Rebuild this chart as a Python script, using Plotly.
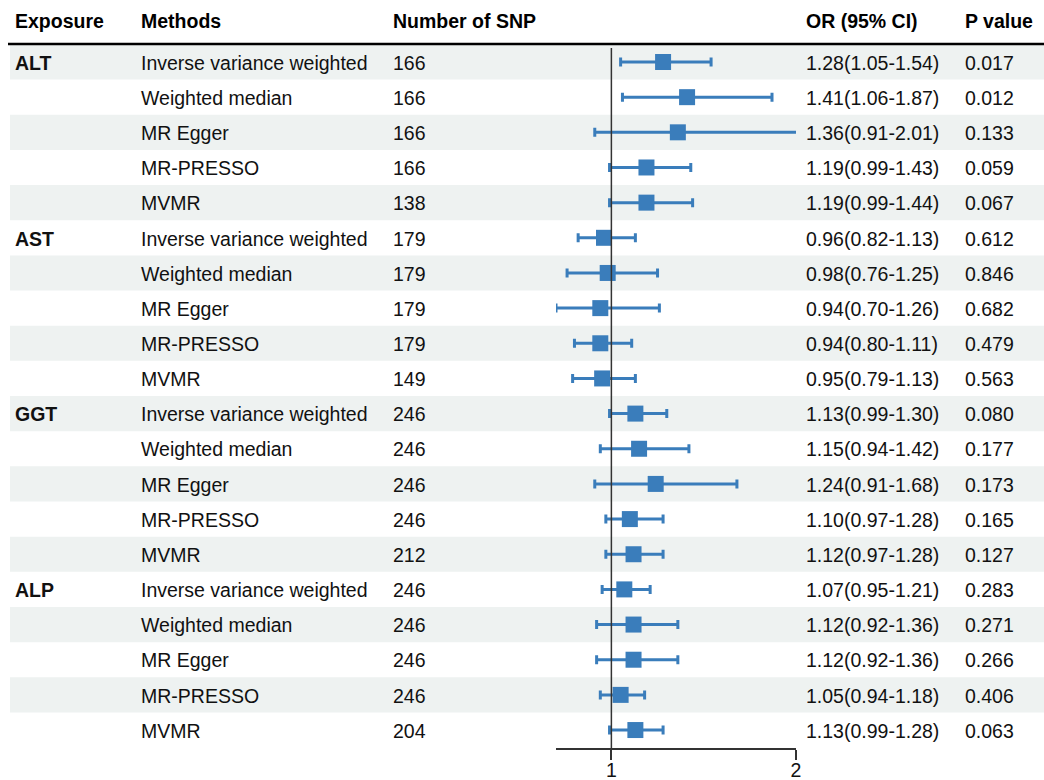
import plotly.graph_objects as go

exposure = ["ALT", "", "", "", "", "AST", "", "", "", "", "GGT", "", "", "", "", "ALP", "", "", "", ""]
methods = ["Inverse variance weighted", "Weighted median", "MR Egger", "MR-PRESSO", "MVMR"] * 4
n_snp = [166, 166, 166, 166, 138,
         179, 179, 179, 179, 149,
         246, 246, 246, 246, 212,
         246, 246, 246, 246, 204]
or_val = [1.28, 1.41, 1.36, 1.19, 1.19,
          0.96, 0.98, 0.94, 0.94, 0.95,
          1.13, 1.15, 1.24, 1.10, 1.12,
          1.07, 1.12, 1.12, 1.05, 1.13]
ci_low = [1.05, 1.06, 0.91, 0.99, 0.99,
          0.82, 0.76, 0.70, 0.80, 0.79,
          0.99, 0.94, 0.91, 0.97, 0.97,
          0.95, 0.92, 0.92, 0.94, 0.99]
ci_high = [1.54, 1.87, 2.01, 1.43, 1.44,
           1.13, 1.25, 1.26, 1.11, 1.13,
           1.30, 1.42, 1.68, 1.28, 1.28,
           1.21, 1.36, 1.36, 1.18, 1.28]
p_val = ["0.017", "0.012", "0.133", "0.059", "0.067",
         "0.612", "0.846", "0.682", "0.479", "0.563",
         "0.080", "0.177", "0.173", "0.165", "0.127",
         "0.283", "0.271", "0.266", "0.406", "0.063"]
headers = ["Exposure", "Methods", "Number of SNP", "OR (95% CI)", "P value"]
x_ticks = [1, 2]

W, H = 1044, 780
PLOT_BOTTOM = 748
ROW1_PX, ROW_STEP = 62, 35.16
n = len(methods)
rows = list(range(1, n + 1))


def px_to_row(py):
    return 1 + (py - ROW1_PX) / ROW_STEP


def xp(px):
    return px / W


y_top = px_to_row(0)
y_bot = px_to_row(PLOT_BOTTOM)

FONT = "Liberation Sans, Arial, Helvetica, sans-serif"
FS = 19.5
BLUE = "#3a7dbb"
SHADE = "#eef2f1"
col_x = [13, 139, 391, 804, 963]

fig = go.Figure()

shapes = []
for r in rows:
    if r % 2 == 1:
        shapes.append(dict(type="rect", xref="paper", yref="y", x0=xp(10), x1=1.0,
                           y0=r - 0.5, y1=r + 0.5, fillcolor=SHADE, line_width=0, layer="below"))
shapes.append(dict(type="line", xref="paper", yref="y", x0=xp(8), x1=1.0,
                   y0=px_to_row(44), y1=px_to_row(44), line=dict(color="black", width=2.5)))
shapes.append(dict(type="line", xref="x", yref="y", x0=1, x1=1,
                   y0=px_to_row(48), y1=y_bot, line=dict(color="#333333", width=1.5), layer="above"))

fig.add_trace(go.Scatter(
    x=or_val, y=rows, mode="markers",
    marker=dict(symbol="square", size=16, color=BLUE),
    error_x=dict(type="data", symmetric=False,
                 array=[h - o for h, o in zip(ci_high, or_val)],
                 arrayminus=[o - l for o, l in zip(or_val, ci_low)],
                 color=BLUE, thickness=3, width=4.5),
    hoverinfo="skip", showlegend=False))

ann = []
hy = px_to_row(21)
for cx, h in zip(col_x, headers):
    ann.append(dict(x=xp(cx), y=hy, xref="paper", yref="y", text=f"<b>{h}</b>",
                    showarrow=False, xanchor="left", yanchor="middle",
                    font=dict(size=FS, color="black", family=FONT)))
or_text = [f"{o:.2f}({l:.2f}-{h:.2f})" for o, l, h in zip(or_val, ci_low, ci_high)]
for i, r in enumerate(rows):
    vals = [f"<b>{exposure[i]}</b>" if exposure[i] else "", methods[i], str(n_snp[i]), or_text[i], p_val[i]]
    for cx, v in zip(col_x, vals):
        if not v:
            continue
        ann.append(dict(x=xp(cx), y=r + 0.02, xref="paper", yref="y", text=v,
                        showarrow=False, xanchor="left", yanchor="middle",
                        font=dict(size=FS, color="#111111", family=FONT)))

fig.update_layout(
    width=W, height=H,
    margin=dict(l=0, r=0, t=0, b=H - PLOT_BOTTOM, pad=0, autoexpand=False),
    paper_bgcolor="white", plot_bgcolor="rgba(0,0,0,0)",
    shapes=shapes, annotations=ann,
    xaxis=dict(domain=[xp(556), xp(796)], range=[0.70, 2.0], tickvals=x_ticks,
               ticktext=[str(t) for t in x_ticks], showgrid=False, zeroline=False,
               showline=True, linecolor="#333333", linewidth=1.5, automargin=False,
               ticks="outside", ticklen=10, tickwidth=1.5, tickcolor="#333333",
               ticklabelstandoff=-6,
               tickfont=dict(size=FS, color="#111111", family=FONT)),
    yaxis=dict(range=[y_bot, y_top], visible=False, showgrid=False, zeroline=False,
               automargin=False),
    font=dict(family=FONT),
)

fig.write_html("out.html", config={"displayModeBar": False},
               post_script="document.body.style.margin='0';document.body.style.overflow='hidden';")
